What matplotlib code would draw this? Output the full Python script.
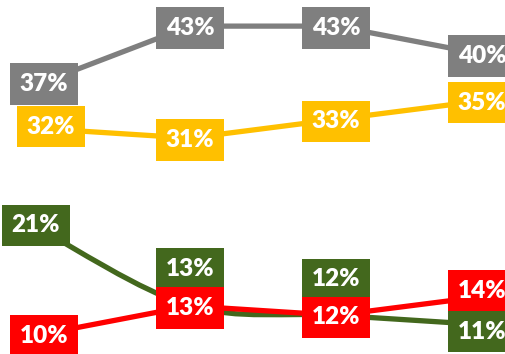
import matplotlib
matplotlib.use('Agg')
import matplotlib.pyplot as plt
import numpy as np
from matplotlib.path import Path
from matplotlib.patches import PathPatch

# 数据
periods = [0, 1, 2, 3]
gray_vals = [37, 43, 43, 40]
yellow_vals = [32, 31, 33, 35]
green_vals = [21, 13, 12, 11]
red_vals = [10, 13, 12, 14]

# 标签偏移（像素）
gray_off = [(0, 0), (0, 0), (0, 0), (0, 0)]
yellow_off = [(7, 4), (0, 0), (0, 0), (0, 0)]
green_off = [(-8, 8), (0, 39), (0, 38), (0, -5)]
red_off = [(0, 0), (0, 0), (0, 0), (0, 8)]

c_gray = '#7F7F7F'
c_yellow = '#FFC000'
c_green = '#43681D'
c_red = '#FF0000'

plt.rcParams['font.family'] = ['Lato', 'DejaVu Sans']

fig = plt.figure(figsize=(5.06, 3.54), dpi=100)
ax = fig.add_axes([0, 0, 1, 1])
ax.set_xlim(-0.30, 3.165)
ax.set_ylim(7.85, 45.8)
ax.axis('off')

lw = 3.8


def smooth_path(xs, ys):
    # 平滑曲线：三次贝塞尔
    pts = np.column_stack([xs, ys]).astype(float)
    n = len(pts)
    verts = [pts[0]]
    codes = [Path.MOVETO]
    for i in range(n - 1):
        p_prev = pts[i - 1] if i > 0 else pts[i]
        p_next2 = pts[i + 2] if i + 2 < n else pts[i + 1]
        c1 = pts[i] + (pts[i + 1] - p_prev) / 6
        c2 = pts[i + 1] - (p_next2 - pts[i]) / 6
        verts += [c1, c2, pts[i + 1]]
        codes += [Path.CURVE4] * 3
    return Path(verts, codes)


ax.plot(periods, gray_vals, color=c_gray, lw=lw, solid_capstyle='butt', zorder=2)
ax.plot(periods, yellow_vals, color=c_yellow, lw=lw, solid_capstyle='butt', zorder=2)
ax.add_patch(PathPatch(smooth_path(periods, green_vals), facecolor='none',
                       edgecolor=c_green, lw=lw, zorder=2))
ax.plot(periods, red_vals, color=c_red, lw=lw, solid_capstyle='butt', zorder=3)


def add_labels(vals, offs, color, z):
    for x, v, (dx, dy) in zip(periods, vals, offs):
        ax.annotate(f'{v}%', (x, v), xytext=(dx, dy), textcoords='offset pixels',
                    ha='center', va='center_baseline', color='white',
                    fontsize=17.5, fontweight='heavy', zorder=z,
                    bbox=dict(boxstyle='square,pad=0.4', fc=color, ec='none'))


add_labels(gray_vals, gray_off, c_gray, 5)
add_labels(yellow_vals, yellow_off, c_yellow, 5)
add_labels(green_vals, green_off, c_green, 5)
add_labels(red_vals, red_off, c_red, 6)

fig.savefig('out.png', dpi=100)
